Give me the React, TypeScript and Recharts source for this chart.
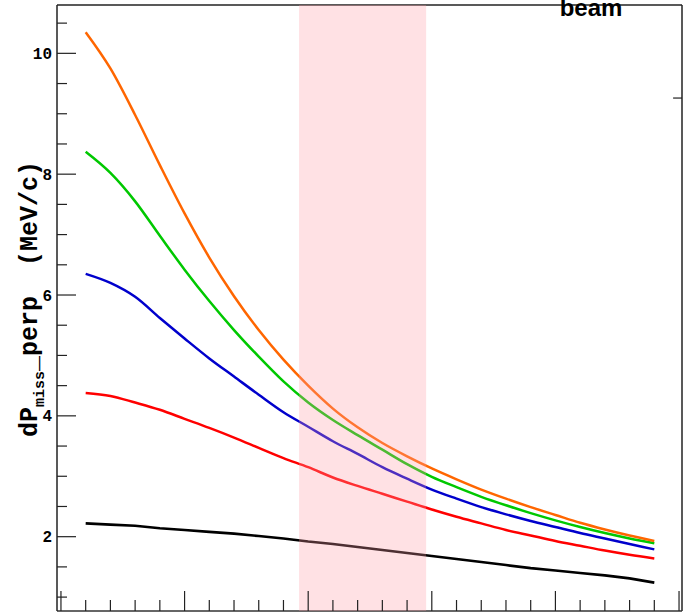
import { LineChart, Line, XAxis, YAxis, ReferenceArea, ReferenceLine, Label } from "recharts";

// x bins (no tick labels visible in the reference)
const bins = [1, 2, 3, 4, 5, 6, 7, 8, 9, 10, 11, 12, 13, 14, 15, 16, 17, 18, 19, 20, 21, 22, 23, 24];
const orange = [10.35, 9.75, 8.98, 8.15, 7.35, 6.62, 5.98, 5.42, 4.93, 4.5, 4.12, 3.81, 3.55, 3.33, 3.13, 2.95, 2.78, 2.63, 2.49, 2.36, 2.23, 2.12, 2.02, 1.93];
const green = [8.37, 8.02, 7.55, 6.98, 6.42, 5.9, 5.42, 4.98, 4.57, 4.22, 3.93, 3.68, 3.44, 3.2, 2.99, 2.82, 2.66, 2.52, 2.39, 2.27, 2.16, 2.06, 1.97, 1.89];
const blue = [6.35, 6.2, 5.97, 5.62, 5.28, 4.95, 4.65, 4.35, 4.06, 3.82, 3.58, 3.37, 3.15, 2.96, 2.78, 2.63, 2.49, 2.37, 2.26, 2.16, 2.06, 1.97, 1.88, 1.79];
const red = [4.38, 4.33, 4.22, 4.1, 3.95, 3.8, 3.64, 3.47, 3.3, 3.15, 2.98, 2.84, 2.71, 2.58, 2.45, 2.33, 2.22, 2.11, 2.02, 1.93, 1.85, 1.77, 1.7, 1.64];
const black = [2.22, 2.2, 2.18, 2.14, 2.11, 2.08, 2.05, 2.01, 1.97, 1.92, 1.88, 1.83, 1.78, 1.73, 1.68, 1.63, 1.58, 1.53, 1.48, 1.44, 1.4, 1.36, 1.31, 1.24];

const xTicks = [0, 1, 2, 3, 4, 5, 6, 7, 8, 9, 10, 11, 12, 13, 14, 15, 16, 17, 18, 19, 20, 21, 22, 23, 24, 25];
const yTicks = [1, 1.5, 2, 2.5, 3, 3.5, 4, 4.5, 5, 5.5, 6, 6.5, 7, 7.5, 8, 8.5, 9, 9.5, 10, 10.5];
const band = [9.63, 14.77];

const data = bins.map((b, i) => ({
  x: b,
  orange: orange[i],
  green: green[i],
  blue: blue[i],
  red: red[i],
  black: black[i],
}));

const XTick = ({ x, y, payload }: any) => {
  const major = payload.value % 5 === 0;
  return <line x1={x} x2={x} y1={y} y2={y - (major ? 20 : 11)} stroke="#222" strokeWidth={1.2} />;
};

const YTick = ({ x, y, payload }: any) => {
  const major = payload.value % 2 === 0;
  return (
    <g>
      <line x1={x} x2={x + (major ? 19 : 10)} y1={y} y2={y} stroke="#222" strokeWidth={1.2} />
      {major && (
        <text x={x - 5} y={y} dy="0.35em" textAnchor="end" fontFamily="Liberation Mono" fontWeight="bold" fontSize={16} fill="#000">
          {payload.value}
        </text>
      )}
    </g>
  );
};

const YLabel = () => (
  <text
    x={37}
    y={299}
    transform="rotate(-90, 37, 299)"
    textAnchor="middle"
    fontFamily="Liberation Mono"
    fontWeight="bold"
    fontSize={25}
    fill="#000"
    style={{ whiteSpace: "pre" }}
  >
    dP
    <tspan fontSize={15} dy={7}>miss</tspan>
    <tspan dy={-7}>_perp  (MeV/c)</tspan>
  </text>
);

export default function App() {
  return (
    <div style={{ position: "absolute", left: 0, top: 0, width: 685, height: 612, overflow: "hidden", background: "#fff" }}>
      <LineChart width={685} height={640} data={data} margin={{ top: 5, right: 3, bottom: 0, left: 0 }}>
        <XAxis
          dataKey="x"
          type="number"
          domain={[-0.16, 25.12]}
          ticks={xTicks}
          interval={0}
          tickSize={0}
          tickMargin={0}
          tickLine={false}
          tick={<XTick />}
          height={29}
          axisLine={{ stroke: "#333", strokeWidth: 1.5 }}
          allowDataOverflow
        />
        <YAxis
          type="number"
          domain={[0.77, 10.8]}
          ticks={yTicks}
          interval={0}
          tickSize={0}
          tickMargin={0}
          tickLine={false}
          tick={<YTick />}
          width={57}
          axisLine={{ stroke: "#222", strokeWidth: 1.5 }}
          allowDataOverflow
        >
          <Label content={<YLabel />} />
        </YAxis>
        <ReferenceLine y={10.8} stroke="#222" strokeWidth={1.5} />
        <ReferenceLine x={25.12} stroke="#222" strokeWidth={1.5} />
        <ReferenceLine segment={[{ x: 24.76, y: 9.26 }, { x: 25.12, y: 9.26 }]} stroke="#222" strokeWidth={1.2} />
        <Line dataKey="black" type="linear" stroke="#000" strokeWidth={2.6} dot={false} isAnimationActive={false} />
        <Line dataKey="red" type="monotone" stroke="#ff0000" strokeWidth={2.5} dot={false} isAnimationActive={false} />
        <Line dataKey="blue" type="monotone" stroke="#0000cc" strokeWidth={2.5} dot={false} isAnimationActive={false} />
        <Line dataKey="green" type="monotone" stroke="#00c800" strokeWidth={2.5} dot={false} isAnimationActive={false} />
        <Line dataKey="orange" type="monotone" stroke="#ff6600" strokeWidth={2.5} dot={false} isAnimationActive={false} />
        <ReferenceArea x1={band[0]} x2={band[1]} fill="#ff9aa5" fillOpacity={0.3} stroke="none" zIndex={600} />
      </LineChart>
      <div
        style={{
          position: "absolute",
          left: 591,
          top: -6,
          transform: "translateX(-50%)",
          fontFamily: "Liberation Sans",
          fontWeight: "bold",
          fontSize: 24,
          lineHeight: "28px",
          color: "#000",
        }}
      >
        beam
      </div>
    </div>
  );
}
